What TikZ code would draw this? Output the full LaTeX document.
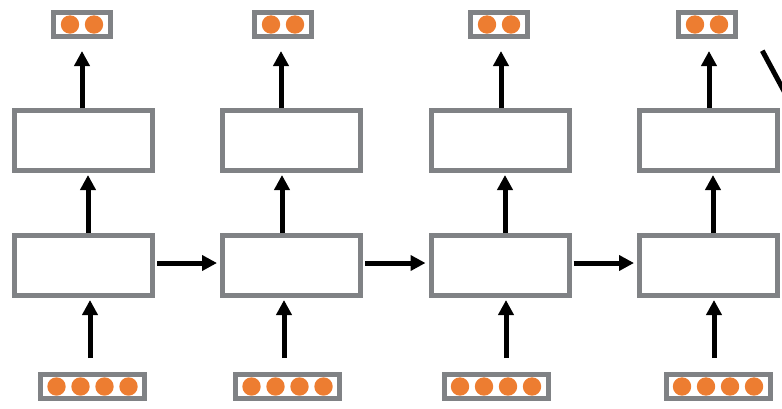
\documentclass[tikz,border=0pt]{standalone}
\usetikzlibrary{arrows.meta}
\definecolor{boxgray}{RGB}{128,130,133}
\definecolor{dotorange}{RGB}{237,125,49}
\begin{document}
\begin{tikzpicture}[x=1pt,y=-1pt,
  cell/.style={draw=boxgray,line width=5pt,minimum width=138pt,minimum height=60pt,inner sep=0pt,fill=white},
  vec/.style={draw=boxgray,line width=5pt,minimum height=24pt,inner sep=0pt,fill=white},
  dot/.style={fill=dotorange},
  arr/.style={line width=5pt,-{Triangle[width=15pt,length=15pt]}},
  plain/.style={line width=5pt}]
\useasboundingbox (0,0) rectangle (782,408);
\clip (0,0) rectangle (782,408);
\foreach \i/\cx/\ox/\ix/\ta/\ma/\ba in {1/83.5/82/92.5/82/88/90, 2/291.5/283/287.5/281/282/284, 3/500/499/496/501/505/506, 4/708.5/707/718/709/713/714}{
  \node[cell] (low\i) at (\cx,265.5) {};
  \node[cell] (up\i) at (\cx,140.5) {};
  \node[vec,minimum width=57pt] (out\i) at (\ox,24.5) {};
  \node[vec,minimum width=104pt] (in\i) at (\ix,386.5) {};
  \foreach \d in {-12,12}{\fill[dot] (\ox+\d,24.5) circle (9.2pt);}
  \foreach \d in {-36,-12,12,36}{\fill[dot] (\ix+\d,386.5) circle (9.2pt);}
  \draw[arr,shorten <=14pt,shorten >=2pt] (\ba,0 |- in\i.north) -- (\ba,0 |- low\i.south);
  \draw[arr,shorten >=2pt] (\ma,0 |- low\i.north) -- (\ma,0 |- up\i.south);
  \draw[arr,shorten >=12pt] (\ta,0 |- up\i.north) -- (\ta,0 |- out\i.south);
}
\foreach \i/\j in {1/2,2/3,3/4}{
  \draw[arr,shorten <=2pt,shorten >=3pt] ([yshift=2.5pt]low\i.east) -- ([yshift=2.5pt]low\j.west);
}
\coordinate (diagA) at (762.3,50.7);
\coordinate (diagB) at (790,102.2);
\draw[plain] (diagA) -- (diagB);
\end{tikzpicture}
\end{document}
